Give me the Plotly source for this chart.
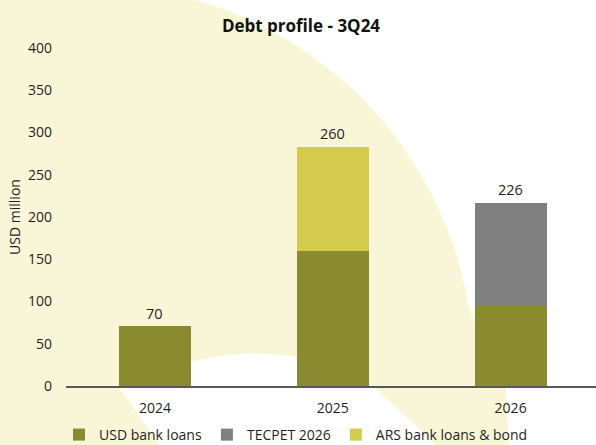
import math
import plotly.graph_objects as go

# ---- data ----
years = ["2024", "2025", "2026"]
usd_bank_loans = [71, 160, 95]
tecpet_2026 = [0, 0, 122]
ars_bank_loans_bond = [0, 123, 0]
total_labels = ["70", "260", "226"]
y_ticks = [0, 50, 100, 150, 200, 250, 300, 350, 400]

# ---- layout geometry ----
W, H = 596, 445
ML, MR, MT, MB = 66, 0, 48, 59
PW, PH = W - ML - MR, H - MT - MB

def px2paper(px, py):
    return (px - ML) / PW, (H - MB - py) / PH

# decorative pale background shape (pixel outline -> paper coords)
cx, cy, r = 87.6, 370.7, 386.5
outer = []
for i in range(0, 31):
    yy = i * 307 / 30
    xx = cx + math.sqrt(r * r - (cy - yy) ** 2)
    outer.append((xx, yy))
pts = [(0, 0)] + outer + [(500, 386), (506, 386), (509, 445), (436, 445), (373, 386),
       (369, 381), (345, 368), (320, 360), (297, 356.5), (272, 354), (250, 353.5),
       (228, 354.5), (205, 358.5), (190, 362), (150, 373), (118, 386), (160, 445), (0, 445)]
path = ""
for k, (a, b) in enumerate(pts):
    X, Y = px2paper(a, b)
    path += ("M" if k == 0 else "L") + f"{X:.4f},{Y:.4f} "
path += "Z"

colors = {"usd": "#8A8A2E", "tec": "#808080", "ars": "#D4CA4E"}
font_family = "Open Sans, Noto Sans, sans-serif"
txt = "#1F1F1F"

fig = go.Figure()
fig.add_bar(x=years, y=usd_bank_loans, name="USD bank loans", marker_color=colors["usd"],
            width=0.405, marker_line_width=0)
fig.add_bar(x=years, y=tecpet_2026, name="TECPET 2026", marker_color=colors["tec"],
            width=0.405, marker_line_width=0)
fig.add_bar(x=years, y=ars_bank_loans_bond, name="ARS bank loans & bond", marker_color=colors["ars"],
            width=0.405, marker_line_width=0)

totals = [a + b + c for a, b, c in zip(usd_bank_loans, tecpet_2026, ars_bank_loans_bond)]
for i, (tot, lab) in enumerate(zip(totals, total_labels)):
    fig.add_annotation(x=i, y=tot, xref="x", yref="y", text=lab, showarrow=False,
                       yanchor="middle", yshift=13,
                       font=dict(size=14.5, color=txt, family=font_family))

fig.update_layout(
    width=W, height=H,
    margin=dict(l=ML, r=MR, t=MT, b=MB, autoexpand=False),
    barmode="stack",
    paper_bgcolor="white",
    plot_bgcolor="rgba(0,0,0,0)",
    font=dict(family=font_family, size=14, color=txt),
    title=dict(text="<b>Debt profile - 3Q24</b>", x=301 / W, xanchor="center",
               y=1 - 26 / H, yanchor="middle", yref="container",
               font=dict(size=17, color="#111111", family=font_family)),
    showlegend=True,
    legend=dict(orientation="h", x=(296 - ML) / PW, xanchor="center",
                y=(H - MB - 435) / PH, yanchor="middle", itemwidth=30,
                font=dict(size=14, color=txt), bgcolor="rgba(0,0,0,0)", traceorder="normal"),
    shapes=[dict(type="path", path=path, xref="paper", yref="paper", layer="below",
                 fillcolor="#F9F6D8", line=dict(width=0))],
)
fig.update_xaxes(type="category", range=[-0.5, 2.48], showline=True, linecolor="#595959",
                 linewidth=1.5, showgrid=False, ticks="", ticklabelstandoff=8, zeroline=False,
                 tickfont=dict(size=14, color=txt))
fig.update_yaxes(range=[0, 400], tickvals=y_ticks, showgrid=False, showline=False, zeroline=False,
                 ticks="", ticklabelstandoff=13,
                 title=dict(text="USD million", standoff=4, font=dict(size=14, color=txt)),
                 tickfont=dict(size=14, color=txt))

fig.write_html("out.html", config={"displayModeBar": False},
               post_script="document.body.style.margin='0';document.body.style.overflow='hidden';")
